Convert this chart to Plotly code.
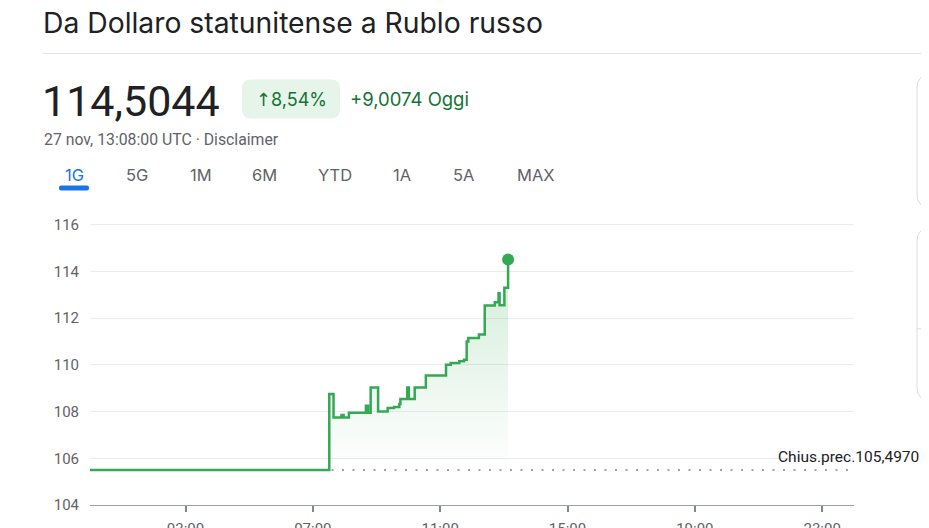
import plotly.graph_objects as go

# ---- data ----
day = "2024-11-27"
times = ["00:00", "07:31", "07:39", "07:54", "07:58", "08:08", "08:40", "08:44",
         "08:49", "09:03", "09:21", "09:33", "09:43", "09:45", "09:58", "10:01",
         "10:12", "10:33", "11:11", "11:20", "11:36", "11:45", "11:50", "11:53",
         "12:13", "12:24", "12:43", "12:50", "12:52", "13:01", "13:08"]
values = [105.50, 108.75, 107.75, 107.85, 107.75, 107.95, 108.25, 107.95,
          109.03, 108.00, 108.15, 108.20, 108.32, 108.54, 109.03, 108.54,
          109.03, 109.54, 110.00, 110.08, 110.15, 110.22, 111.00, 111.15,
          111.30, 112.54, 112.68, 113.06, 112.55, 113.30, 114.5044]
prev_close = 105.4970
prev_close_span = ["00:00", "23:50"]
x_ticks = ["03:00", "07:00", "11:00", "15:00", "19:00", "23:00"]
y_ticks = [104, 106, 108, 110, 112, 114, 116]
tabs = ["1G", "5G", "1M", "6M", "YTD", "1A", "5A", "MAX"]
tab_centers = [74, 136.5, 201, 264.5, 335, 402, 463, 535.5]

# the page body has an 8px margin: the figure starts at window (8, 8)
OFF = 8
WIN_W, WIN_H = 929, 528
W, H = WIN_W - OFF, WIN_H - OFF
PX0, PX1, PY0, PY1 = 90, 854, 220.4, 505   # plot area in window pixels
L, R, T, B = PX0 - OFF, WIN_W - PX1, PY0 - OFF, WIN_H - PY1
PW, PH = PX1 - PX0, PY1 - PY0


def px(x):
    return (x - PX0) / PW


def py(y):
    return (PY1 - y) / PH


def ts(t):
    return f"{day} {t}"


GREEN = "#34a853"
fig = go.Figure()

fig.add_trace(go.Scatter(
    x=[ts(t) for t in prev_close_span], y=[prev_close] * len(prev_close_span),
    mode="lines", line=dict(color="#80868b", width=1.5, dash="2px,8.5px"),
    hoverinfo="skip", showlegend=False))

fig.add_trace(go.Scatter(
    x=[ts(t) for t in times], y=values, mode="lines",
    line=dict(color=GREEN, width=2.5, shape="hv"),
    fill="tozeroy",
    fillgradient=dict(type="vertical", start=prev_close, stop=max(values),
                      colorscale=[[0, "rgba(52,168,83,0.0)"], [1, "rgba(52,168,83,0.22)"]]),
    showlegend=False))

fig.add_trace(go.Scatter(
    x=[ts(times[-1])], y=[values[-1]], mode="markers",
    marker=dict(color=GREEN, size=12), showlegend=False))

ann = []


def text(x, y, s, size, color, anchor="left", family="Roboto"):
    ann.append(dict(x=px(x), y=py(y), xref="paper", yref="paper", text=s,
                    showarrow=False, xanchor=anchor, yanchor="middle",
                    font=dict(size=size, color=color, family=family)))


text(41, 24, "Da Dollaro statunitense a Rublo russo", 28.3, "#202124", family="Inter")
text(40, 102, "114,5044", 43, "#202124")
text(291, 100, "<span style='font-family:DejaVu Sans'>↑</span>8,54%", 18, "#137333",
     anchor="center", family="Inter")
text(348, 100, "+9,0074 Oggi", 18.5, "#137333", family="Inter")
text(42, 140, "27 nov, 13:08:00 UTC · Disclaimer", 15.8, "#5f6368")
for i, (t, c) in enumerate(zip(tabs, tab_centers)):
    text(c, 175, t, 16.5, "#1a73e8" if i == 0 else "#5f6368", anchor="center",
         family="Inter")

ann.append(dict(x=px(777), y=prev_close, xref="paper", yref="y",
                text="Chius.prec.105,4970", showarrow=False, xanchor="left",
                yanchor="bottom", yshift=3, borderpad=0,
                font=dict(size=15.5, color="#202124", family="Roboto")))


def rrect(x0, y0, x1, y1, r):
    X0, X1 = px(x0), px(x1)
    Y0, Y1 = py(y0), py(y1)
    rx, ry = r / PW, r / PH
    return (f"M {X0+rx},{Y0} L {X1-rx},{Y0} Q {X1},{Y0} {X1},{Y0-ry} "
            f"L {X1},{Y1+ry} Q {X1},{Y1} {X1-rx},{Y1} L {X0+rx},{Y1} "
            f"Q {X0},{Y1} {X0},{Y1+ry} L {X0},{Y0-ry} Q {X0},{Y0} {X0+rx},{Y0} Z")


shapes = [
    dict(type="line", xref="paper", yref="paper", x0=px(43), x1=px(935),
         y0=py(54), y1=py(54), line=dict(color="#e3e3e3", width=1)),
    dict(type="path", xref="paper", yref="paper", path=rrect(242, 80, 340, 119, 9),
         fillcolor="#e6f4ea", line=dict(width=0)),
    dict(type="path", xref="paper", yref="paper", path=rrect(59, 186, 89, 191, 2),
         fillcolor="#1a73e8", line=dict(width=0)),
    dict(type="path", xref="paper", yref="paper", path=rrect(917, 76, 960, 207, 12),
         fillcolor="rgba(0,0,0,0)", line=dict(color="#dadce0", width=1)),
    dict(type="path", xref="paper", yref="paper", path=rrect(917, 229, 960, 400, 12),
         fillcolor="rgba(0,0,0,0)", line=dict(color="#dadce0", width=1)),
    dict(type="line", xref="paper", yref="paper", x0=px(917), x1=px(935),
         y0=py(329), y1=py(329), line=dict(color="#dadce0", width=1)),
]

fig.update_layout(
    width=W, height=H, margin=dict(l=L, r=R, t=T, b=B, autoexpand=False),
    paper_bgcolor="white", plot_bgcolor="white",
    annotations=ann, shapes=shapes, showlegend=False,
    font=dict(family="Roboto"),
    xaxis=dict(type="date", range=[ts("00:00"), "2024-11-28 00:00"],
               tickvals=[ts(t) for t in x_ticks], ticktext=x_ticks,
               showgrid=False, zeroline=False, showline=True, linecolor="#9aa0a6",
               linewidth=1, ticks="outside", ticklen=6, tickcolor="#80868b", tickwidth=1.5,
               ticklabelstandoff=4,
               tickfont=dict(size=15, color="#5f6368"), automargin=False),
    yaxis=dict(range=[104, 116.2], tickvals=y_ticks, ticktext=[str(v) for v in y_ticks],
               showgrid=True, gridcolor="#ececec", gridwidth=1, zeroline=False,
               showline=False, ticks="", ticklabelstandoff=10,
               tickfont=dict(size=15, color="#5f6368"), automargin=False),
)

fig.write_html("out.html")
